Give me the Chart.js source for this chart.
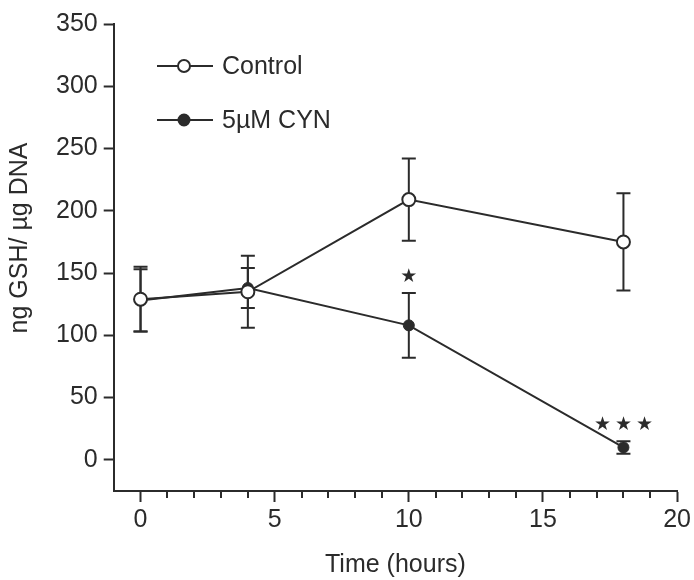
<!DOCTYPE html>
<html>
<head>
<meta charset="utf-8">
<script src="https://cdn.jsdelivr.net/npm/chart.js@4.4.1/dist/chart.umd.min.js"></script>
<style>
  html, body { margin: 0; padding: 0; background: #fff; }
  #wrap { width: 694px; height: 580px; }
</style>
</head>
<body>
<div id="wrap"><canvas id="gsh" width="694" height="580"></canvas></div>
<script>
// GSH content over time, mean ± SEM
const times = [0, 4, 10, 18];
const controlMean = [129, 135, 209, 175];
const controlErr = [26, 29, 33, 39];
const cynMean = [128, 138, 108, 10];
const cynErr = [25, 16, 26, 5];
const cynStars = [0, 0, 1, 3];   // significance vs control
const seriesNames = ['Control', '5\u00b5M CYN'];

const INK = '#2b2b2b';
const FONT = "'Liberation Sans', Arial, sans-serif";
const FS = 25;

// === Error bars + significance stars ===
const errorBars = {
  id: 'errorBars',
  beforeDatasetsDraw(chart) {
    const ctx = chart.ctx;
    const xs = chart.scales.x, ys = chart.scales.y;
    const sets = [[controlMean, controlErr], [cynMean, cynErr]];
    ctx.save();
    ctx.strokeStyle = INK;
    ctx.lineWidth = 2;
    sets.forEach(([m, e]) => {
      times.forEach((t, i) => {
        const px = xs.getPixelForValue(t);
        const top = ys.getPixelForValue(m[i] + e[i]);
        const bot = ys.getPixelForValue(m[i] - e[i]);
        ctx.beginPath();
        ctx.moveTo(px, top); ctx.lineTo(px, bot);
        ctx.moveTo(px - 7, top); ctx.lineTo(px + 7, top);
        ctx.moveTo(px - 7, bot); ctx.lineTo(px + 7, bot);
        ctx.stroke();
      });
    });
    ctx.fillStyle = INK;
    ctx.font = "19px 'DejaVu Sans', sans-serif";
    ctx.textAlign = 'center';
    ctx.textBaseline = 'middle';
    times.forEach((t, i) => {
      const n = cynStars[i];
      if (!n) return;
      const px = xs.getPixelForValue(t);
      const py = ys.getPixelForValue(cynMean[i] + cynErr[i]) - 16;
      for (let k = 0; k < n; k++) {
        ctx.fillText('★', px + (k - (n - 1) / 2) * 21, py);
      }
    });
    ctx.restore();
  }
};

// === Minor x ticks, y title, legend ===
const decorations = {
  id: 'decorations',
  afterDraw(chart) {
    const ctx = chart.ctx;
    const xs = chart.scales.x;
    const area = chart.chartArea;
    ctx.save();
    ctx.strokeStyle = INK;
    ctx.lineWidth = 2;
    for (let v = 1; v < 20; v++) {
      if (v % 5 === 0) continue;
      const px = Math.round(xs.getPixelForValue(v));
      ctx.beginPath();
      ctx.moveTo(px, area.bottom);
      ctx.lineTo(px, area.bottom + 7);
      ctx.stroke();
    }

    // y axis title
    ctx.fillStyle = INK;
    ctx.font = `${FS}px ${FONT}`;
    ctx.textAlign = 'center';
    ctx.textBaseline = 'middle';
    ctx.translate(20, 238);
    ctx.rotate(-Math.PI / 2);
    ctx.fillText('ng GSH/ \u00b5g DNA', 0, 0);
    ctx.setTransform(1, 0, 0, 1, 0, 0);

    // legend
    const rows = [66, 120];
    rows.forEach((ry, i) => {
      ctx.beginPath();
      ctx.moveTo(157, ry); ctx.lineTo(213, ry);
      ctx.stroke();
      ctx.beginPath();
      ctx.arc(184, ry, i === 0 ? 6 : 5.5, 0, Math.PI * 2);
      ctx.fillStyle = i === 0 ? '#fff' : INK;
      ctx.fill();
      ctx.stroke();
      ctx.fillStyle = INK;
      ctx.textAlign = 'left';
      ctx.fillText(seriesNames[i], 222, ry + 1);
    });
    ctx.restore();
  }
};

new Chart(document.getElementById('gsh'), {
  type: 'line',
  data: {
    datasets: [
      {
        label: seriesNames[0],
        data: times.map((t, i) => ({ x: t, y: controlMean[i] })),
        borderColor: INK,
        borderWidth: 2,
        pointRadius: 6.5,
        pointBorderWidth: 2,
        pointBackgroundColor: '#fff',
        pointBorderColor: INK
      },
      {
        label: seriesNames[1],
        data: times.map((t, i) => ({ x: t, y: cynMean[i] })),
        borderColor: INK,
        borderWidth: 2,
        pointRadius: 5.5,
        pointBorderWidth: 1,
        pointBackgroundColor: INK,
        pointBorderColor: INK
      }
    ]
  },
  options: {
    responsive: false,
    animation: false,
    layout: { padding: { left: 50, right: 11, top: 24, bottom: 0 } },
    plugins: {
      legend: { display: false },
      tooltip: { enabled: false }
    },
    scales: {
      x: {
        type: 'linear',
        min: -1,
        max: 20,
        afterBuildTicks: s => { s.ticks = [0, 5, 10, 15, 20].map(v => ({ value: v })); },
        ticks: { color: INK, font: { family: FONT, size: FS }, padding: 3, maxRotation: 0 },
        grid: { drawOnChartArea: false, tickLength: 11, tickWidth: 2, tickColor: INK },
        border: { color: INK, width: 2 },
        title: { display: true, text: 'Time (hours)', color: INK, font: { family: FONT, size: FS }, padding: { top: 12, bottom: 0 } }
      },
      y: {
        min: -25,
        max: 350,
        afterBuildTicks: s => { s.ticks = s.ticks.filter(t => t.value >= 0); },
        ticks: { stepSize: 50, color: INK, font: { family: FONT, size: FS }, padding: 6 },
        grid: { drawOnChartArea: false, tickLength: 10, tickWidth: 2, tickColor: INK },
        border: { color: INK, width: 2 }
      }
    }
  },
  plugins: [errorBars, decorations]
});
</script>
</body>
</html>
